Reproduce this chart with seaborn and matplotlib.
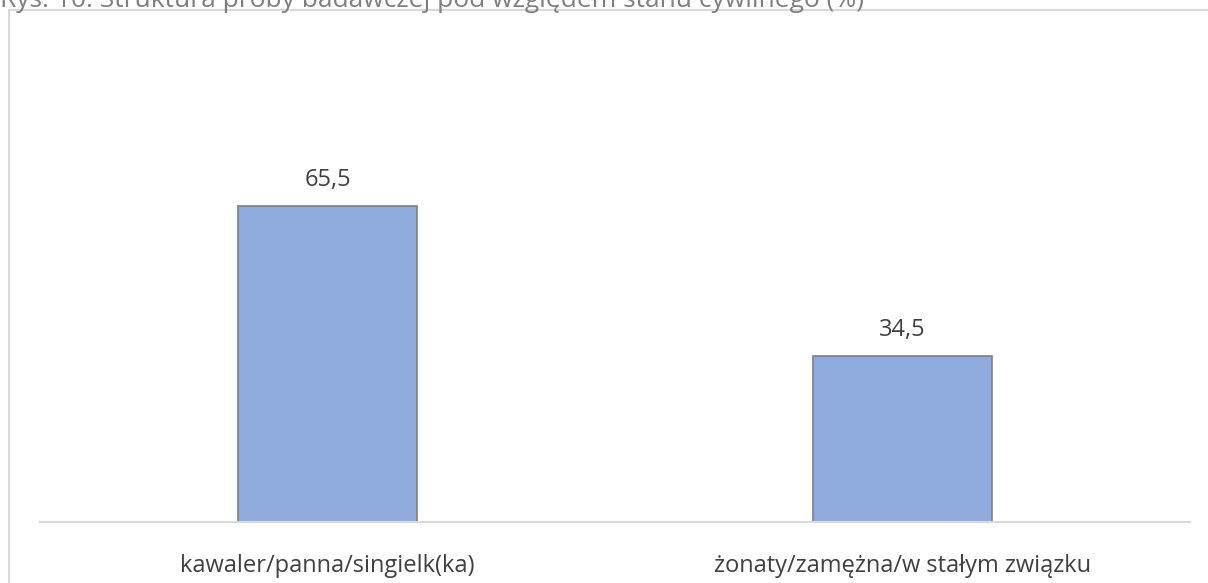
import matplotlib
matplotlib.use("Agg")
import matplotlib.pyplot as plt
import seaborn as sns
import pandas as pd
from matplotlib.patches import Rectangle

# data
categories = ["kawaler/panna/singielk(ka)", "żonaty/zamężna/w stałym związku"]
values = [65.5, 34.5]
title = "Rys. 10. Struktura próby badawczej pod względem stanu cywilnego (%)"

df = pd.DataFrame({"cat": categories, "val": values})

sns.set_theme(style="white")
plt.rcParams["font.family"] = ["Open Sans", "DejaVu Sans"]

W, H = 1208, 583
fig = plt.figure(figsize=(W / 100, H / 100), dpi=100)

# chart frame
fig.patches.append(Rectangle((9 / W, -0.1), 1.2, 1.1 - 10 / H, transform=fig.transFigure,
                             fill=False, edgecolor="#D9D9D9", linewidth=1.5))

# plot area in pixels: x 40..1190, baseline y=522, 70 units -> 337 px
x0, x1 = 40, 1190
base, top = 522, 522 - 337.5
ax = fig.add_axes([x0 / W, (H - base) / H, (x1 - x0) / W, (base - top) / H])

sns.barplot(data=df, x="cat", y="val", color="#8FAADC", width=0.313,
            edgecolor="#7F7F7F", linewidth=1.2, saturation=1, ax=ax)
ax.set_xlim(-0.5, 1.5)
ax.set_ylim(0, 70)
for s in ["top", "right", "left"]:
    ax.spines[s].set_visible(False)
ax.spines["bottom"].set_color("#D9D9D9")
ax.spines["bottom"].set_linewidth(1.5)
ax.set_yticks([])
ax.set_xlabel("")
ax.set_ylabel("")
ax.tick_params(axis="x", length=0, pad=23, labelsize=17, labelcolor="#404040")
ax.patch.set_alpha(0)

for c in ax.containers:
    ax.bar_label(c, labels=[f"{v:.1f}".replace(".", ",") for v in values],
                 padding=10, fontsize=17, color="#404040")

fig.text(0.0, 1.0 - 7 / H, title, ha="left", va="baseline", fontsize=19, color="#7F7F7F")

fig.savefig("out.png", dpi=100)
